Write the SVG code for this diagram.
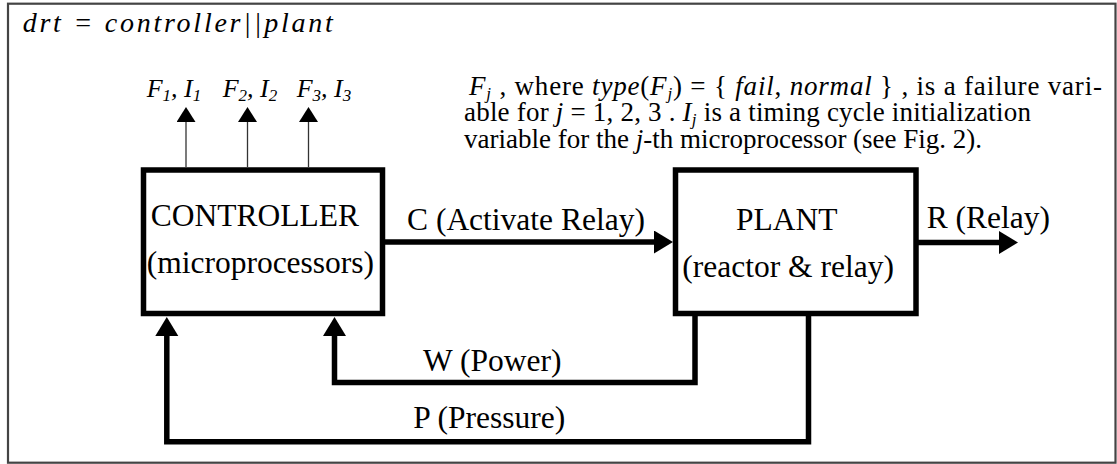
<svg xmlns="http://www.w3.org/2000/svg" width="1117" height="464" viewBox="0 0 1117 464">
<style>
text{font-family:"Liberation Serif","Times New Roman",serif;fill:#000}
.big{font-size:31.5px}
.m{font-size:26px;font-style:italic}
.t{font-size:28px;font-style:italic}
.p{font-size:27px}
.i{font-style:italic}
.s{font-size:17px}
.box{fill:#fff;stroke:#000;stroke-width:5.5}
.thick{fill:none;stroke:#000;stroke-width:5.5;stroke-linejoin:miter}
.thin{fill:none;stroke:#333;stroke-width:1.3}
</style>
<defs>
<marker id="ah" markerUnits="userSpaceOnUse" markerWidth="20" markerHeight="24" refX="6" refY="11.5" orient="auto">
<path d="M0,0 L19,11.5 L0,23 z" fill="#000"/>
</marker>
<marker id="ahs" markerUnits="userSpaceOnUse" markerWidth="16" markerHeight="20" refX="1" refY="9.5" orient="auto">
<path d="M0,0 L15,9.5 L0,19 z" fill="#000"/>
</marker>
</defs>
<rect x="8" y="3.7" width="1107.5" height="459" fill="#fff" stroke="#444" stroke-width="2.2"/>
<text x="22.7" y="31.7" class="t" textLength="310" lengthAdjust="spacing">drt = controller||plant</text>
<g id="legend">
<text x="469" y="95" class="p" textLength="633" lengthAdjust="spacing"><tspan class="i">F</tspan><tspan class="s i" dy="4">j</tspan><tspan dy="-4"> , where </tspan><tspan class="i">type</tspan>(<tspan class="i">F</tspan><tspan class="s i" dy="4">j</tspan><tspan dy="-4">) = { </tspan><tspan class="i">fail</tspan>, <tspan class="i">normal</tspan> } , is a failure vari-</text>
<text x="464" y="121" class="p" textLength="567" lengthAdjust="spacing">able for <tspan class="i">j</tspan> = 1, 2, 3 . <tspan class="i">I</tspan><tspan class="s i" dy="4">j</tspan><tspan dy="-4"> is a timing cycle initialization</tspan></text>
<text x="464" y="148" class="p">variable for the <tspan class="i">j</tspan>-th microprocessor (see Fig. 2).</text>
</g>
<g id="controller">
<rect class="box" x="143.5" y="170" width="239" height="143.5"/>
<text class="big" x="150.7" y="226">CONTROLLER</text>
<text class="big" x="146.7" y="273">(microprocessors)</text>
</g>
<g id="plant">
<rect class="box" x="675.5" y="170" width="240.5" height="143.5"/>
<text class="big" x="736" y="230">PLANT</text>
<text class="big" x="682.3" y="277">(reactor &amp; relay)</text>
</g>
<g id="connectors">
<line class="thin" x1="186" y1="167" x2="186" y2="121" marker-end="url(#ahs)"/>
<line class="thin" x1="247.5" y1="167" x2="247.5" y2="121" marker-end="url(#ahs)"/>
<line class="thin" x1="308.5" y1="167" x2="308.5" y2="121" marker-end="url(#ahs)"/>
<line class="thick" x1="385" y1="242" x2="660" y2="242" marker-end="url(#ah)"/>
<line class="thick" x1="918" y1="242.5" x2="1005" y2="242.5" marker-end="url(#ah)"/>
<polyline class="thick" points="695,316 695,382.5 334.5,382.5 334.5,330" marker-end="url(#ah)"/>
<polyline class="thick" points="808.5,316 808.5,441.8 166.8,441.8 166.8,330" marker-end="url(#ah)"/>
</g>
<g id="labels">
<text class="m" x="146.7" y="96.7">F<tspan class="s" dy="4">1</tspan><tspan dy="-4">, I</tspan><tspan class="s" dy="4">1</tspan></text>
<text class="m" x="222.7" y="96.7">F<tspan class="s" dy="4">2</tspan><tspan dy="-4">, I</tspan><tspan class="s" dy="4">2</tspan></text>
<text class="m" x="296.7" y="96.7">F<tspan class="s" dy="4">3</tspan><tspan dy="-4">, I</tspan><tspan class="s" dy="4">3</tspan></text>
<text class="big" x="407" y="230">C (Activate Relay)</text>
<text class="big" x="926.7" y="228">R (Relay)</text>
<text class="big" x="423" y="371">W (Power)</text>
<text class="big" x="413.3" y="428">P (Pressure)</text>
</g>
</svg>
